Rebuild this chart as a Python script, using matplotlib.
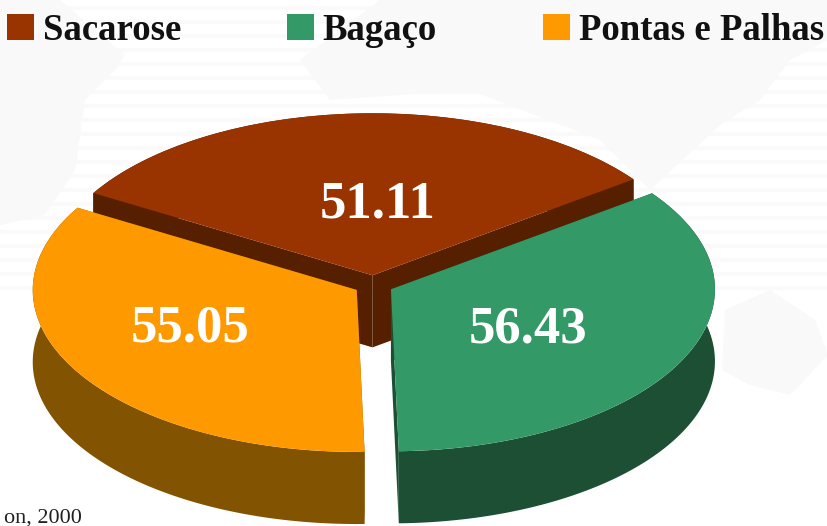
import numpy as np
import matplotlib
matplotlib.use("Agg")
import matplotlib.pyplot as plt
from matplotlib.patches import Polygon, Rectangle

# Data
categories = ['Sacarose', 'Bagaço', 'Pontas e Palhas']
values = [51.11, 56.43, 55.05]
source_text = 'on, 2000'

top_colors = ['#993300', '#339966', '#FF9900']
side_colors = ['#561F00', '#1D4F35', '#825300']
label_dist = [0.47, 0.47, 0.56]
label_nudge = [(13, -5), (0, -7), (-10, 7)]  # pixels
depth = 0.445

W, H = 828, 526
fig = plt.figure(figsize=(W / 100, H / 100), dpi=100)
ax = fig.add_axes([0, 0, 1, 1])

wedges, _ = ax.pie(values, colors=top_colors, startangle=149.5, counterclock=False,
                   explode=[0.06, 0.06, 0.06], radius=1,
                   wedgeprops={'linewidth': 0})

# pie forces a round shape, squash it and put the center where it is in the picture
ax.set_aspect('auto')
ax.set_xlim(-373.5 / 324, (W - 373.5) / 324)
ax.set_ylim((285 - H) / 162, 285 / 162)
ax.axis('off')
fig.patch.set_facecolor('white')


def px(x, y):
    return (x / W, 1 - y / H)


# faint world map and stripes in the background
bg = ax.transAxes
for y in range(8, 300, 14):
    ax.plot([0, 1], [1 - y / H] * 2, transform=bg, color='#FAFAFA', lw=3, zorder=0.5)
map_shapes = [
    [(0, 0), (60, 0), (125, 55), (115, 70), (85, 100), (75, 170), (45, 215), (0, 225)],
    [(300, 60), (380, 0), (828, 0), (828, 40), (790, 60), (760, 100), (720, 125), (650, 190), (600, 140), (470, 90), (330, 100)],
    [(725, 310), (770, 290), (815, 320), (828, 355), (790, 395), (750, 385), (722, 370)],
]
for shape in map_shapes:
    ax.add_patch(Polygon([px(*p) for p in shape], transform=bg, facecolor='#F9F9FA',
                         edgecolor='none', zorder=1))

# slice tops and walls, back slice first
draw_order = {0: 2, 2: 4, 1: 4}
for i, w in enumerate(wedges):
    cx, cy = w.center
    base = draw_order[i]
    w.set_zorder(base + 1)
    t = np.radians(np.linspace(w.theta1, w.theta2, 120))
    xs = cx + np.cos(t)
    ys = cy + np.sin(t)
    # outer wall
    ax.fill(np.r_[xs, xs[::-1]], np.r_[ys, ys[::-1] - depth], color=side_colors[i],
            lw=0, zorder=base)
    # cut faces
    for x_end, y_end in [(xs[0], ys[0]), (xs[-1], ys[-1])]:
        ax.fill([cx, x_end, x_end, cx], [cy, y_end, y_end - depth, cy - depth],
                color=side_colors[i], lw=0, zorder=base)
    # value label
    mid = np.radians((w.theta1 + w.theta2) / 2)
    ax.annotate(f'{values[i]:.2f}',
                (cx + label_dist[i] * np.cos(mid), cy + label_dist[i] * np.sin(mid)),
                xytext=label_nudge[i], textcoords='offset pixels',
                color='white', family='Liberation Serif', weight='bold', fontsize=38,
                ha='center', va='center', zorder=10)

# legend
legend_x = [(7, 43), (287, 322), (543, 579)]
for (bx, tx), name, c in zip(legend_x, categories, top_colors):
    ax.add_patch(Rectangle(px(bx, 40), 27 / W, 26 / H, transform=bg, color=c, lw=0, zorder=10))
    ax.text(*px(tx, 30), name, transform=bg, family='Liberation Serif', weight='bold',
            fontsize=26.5, color='#111111', va='center', ha='left', zorder=10)

ax.text(*px(4, 518), source_text, transform=bg, family='Liberation Serif', fontsize=16,
        color='#222222', va='center', ha='left', zorder=10)

fig.savefig('out.png', dpi=100)
